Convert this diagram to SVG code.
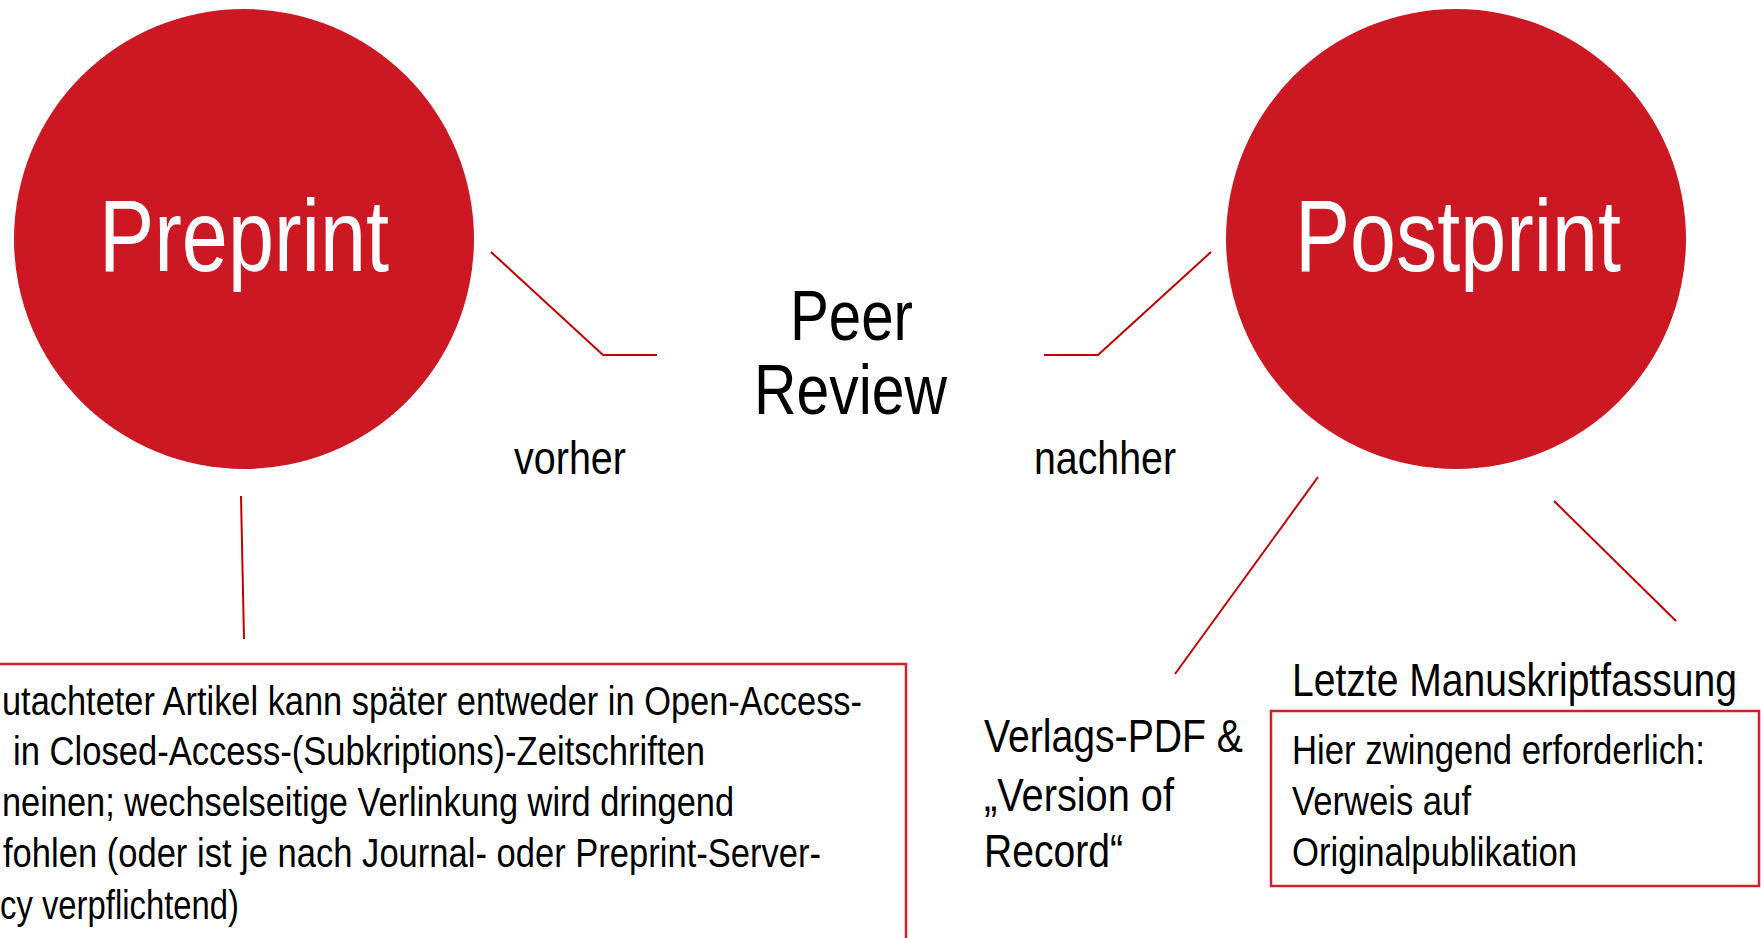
<svg xmlns="http://www.w3.org/2000/svg" width="1761" height="938" viewBox="0 0 1761 938">
<style>
text{font-family:"Liberation Sans Narrow","Liberation Sans",Arial,sans-serif;fill:#000}
.circ{fill:#CC1823}
.title{fill:#fff;font-size:102px}
.conn{fill:none;stroke:#C00000;stroke-width:2}
.box{fill:none;stroke:#D0202A;stroke-width:2.5}
.big{font-size:70px}
.mid{font-size:46px}
.sm{font-size:40px}
</style>
<rect width="1761" height="938" fill="#fff"/>
<g id="connectors">
<polyline class="conn" points="491,252 603,355 657,355"/>
<polyline class="conn" points="1211,252 1098,355 1044,355"/>
<line class="conn" x1="241" y1="496" x2="244" y2="639"/>
<line class="conn" x1="1318" y1="477" x2="1175" y2="674"/>
<line class="conn" x1="1554" y1="501" x2="1676" y2="621"/>
</g>
<g id="preprint">
<circle class="circ" cx="244" cy="239" r="230"/>
<text class="title" x="99" y="271" textLength="290" lengthAdjust="spacingAndGlyphs">Preprint</text>
</g>
<g id="postprint">
<circle class="circ" cx="1456" cy="239" r="230"/>
<text class="title" x="1295" y="271" textLength="326" lengthAdjust="spacingAndGlyphs">Postprint</text>
</g>
<g id="peer-review">
<text class="big" x="790" y="340" textLength="123" lengthAdjust="spacingAndGlyphs">Peer</text>
<text class="big" x="754" y="414" textLength="193" lengthAdjust="spacingAndGlyphs">Review</text>
</g>
<g id="vorher">
<text class="mid" x="514" y="474" textLength="112" lengthAdjust="spacingAndGlyphs">vorher</text>
</g>
<g id="nachher">
<text class="mid" x="1034" y="474" textLength="142" lengthAdjust="spacingAndGlyphs">nachher</text>
</g>
<g id="preprint-note">
<rect class="box" x="-10" y="664" width="916" height="300"/>
<text class="sm" x="2" y="715" textLength="860" lengthAdjust="spacingAndGlyphs">utachteter Artikel kann später entweder in Open-Access-</text>
<text class="sm" x="13" y="765" textLength="692" lengthAdjust="spacingAndGlyphs">in Closed-Access-(Subkriptions)-Zeitschriften</text>
<text class="sm" x="2" y="816" textLength="732" lengthAdjust="spacingAndGlyphs">neinen; wechselseitige Verlinkung wird dringend</text>
<text class="sm" x="3" y="867" textLength="818" lengthAdjust="spacingAndGlyphs">fohlen (oder ist je nach Journal- oder Preprint-Server-</text>
<text class="sm" x="0" y="919" textLength="239" lengthAdjust="spacingAndGlyphs">cy verpflichtend)</text>
</g>
<g id="verlags-pdf">
<text class="mid" x="984" y="752" textLength="259" lengthAdjust="spacingAndGlyphs">Verlags-PDF &amp;</text>
<text class="mid" x="984" y="811" textLength="190" lengthAdjust="spacingAndGlyphs">„Version of</text>
<text class="mid" x="984" y="867" textLength="139" lengthAdjust="spacingAndGlyphs">Record“</text>
</g>
<g id="manuskript">
<text class="mid" x="1292" y="696" textLength="445" lengthAdjust="spacingAndGlyphs">Letzte Manuskriptfassung</text>
<rect class="box" x="1271" y="711" width="488" height="175"/>
<text class="sm" x="1292" y="764" textLength="413" lengthAdjust="spacingAndGlyphs">Hier zwingend erforderlich:</text>
<text class="sm" x="1292" y="815" textLength="179" lengthAdjust="spacingAndGlyphs">Verweis auf</text>
<text class="sm" x="1292" y="866" textLength="285" lengthAdjust="spacingAndGlyphs">Originalpublikation</text>
</g>
</svg>
